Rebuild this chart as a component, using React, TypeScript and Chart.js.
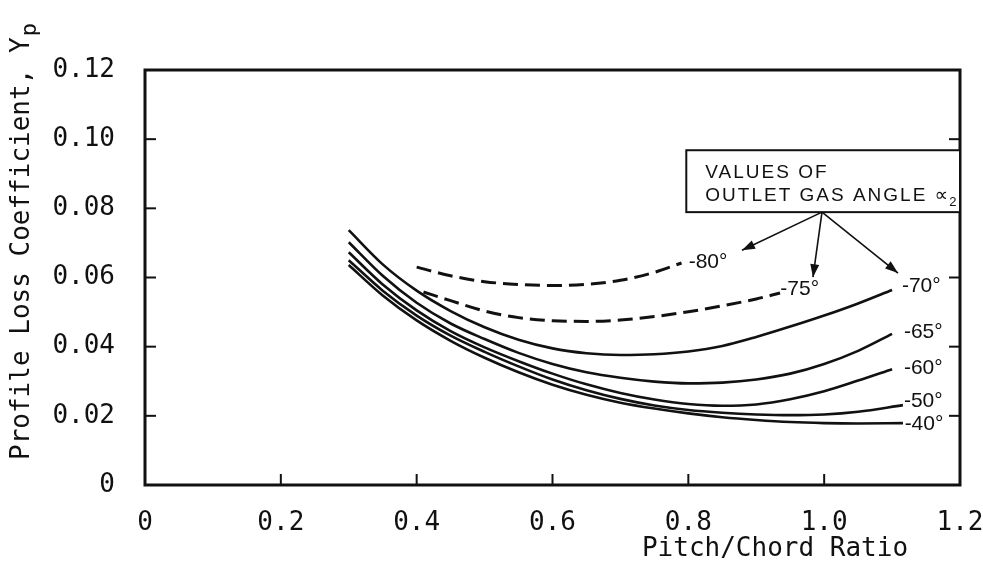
import React, { useEffect, useRef } from "react";
import { Chart, registerables } from "chart.js";

Chart.register(...registerables);

// ---- data ----
const X_TICKS = [0, 0.2, 0.4, 0.6, 0.8, 1.0, 1.2];
const X_TICK_LABELS = ["0", "0.2", "0.4", "0.6", "0.8", "1.0", "1.2"];
const Y_TICKS = [0, 0.02, 0.04, 0.06, 0.08, 0.1, 0.12];
const Y_TICK_LABELS = ["0", "0.02", "0.04", "0.06", "0.08", "0.10", "0.12"];

const PITCH_HIGH = [0.3, 0.35, 0.4, 0.45, 0.5, 0.55, 0.6, 0.65, 0.7, 0.75, 0.8, 0.85, 0.9, 0.95, 1.0, 1.05, 1.1];
const LOSS_70 = [0.0737, 0.0638, 0.0562, 0.0503, 0.0456, 0.042, 0.0395, 0.0381, 0.0376, 0.0378, 0.0386, 0.0402, 0.0428, 0.0458, 0.049, 0.0525, 0.0564];
const LOSS_65 = [0.0702, 0.0605, 0.0527, 0.0467, 0.0422, 0.0382, 0.035, 0.0326, 0.031, 0.0299, 0.0294, 0.0296, 0.0305, 0.0322, 0.035, 0.0388, 0.0437];
const LOSS_60 = [0.0673, 0.058, 0.0505, 0.0445, 0.0398, 0.0358, 0.0322, 0.0291, 0.0266, 0.0247, 0.0234, 0.0229, 0.0233, 0.0248, 0.0271, 0.0302, 0.0335];

const PITCH_LOW = [0.3, 0.35, 0.4, 0.45, 0.5, 0.55, 0.6, 0.65, 0.7, 0.75, 0.8, 0.85, 0.9, 0.95, 1.0, 1.05, 1.116];
const LOSS_50 = [0.065, 0.0562, 0.049, 0.0432, 0.0385, 0.0343, 0.0305, 0.0274, 0.0249, 0.023, 0.0217, 0.0209, 0.0204, 0.0202, 0.0204, 0.0212, 0.0231];
const LOSS_40 = [0.0636, 0.0548, 0.0476, 0.0417, 0.0368, 0.0326, 0.029, 0.0261, 0.0238, 0.0221, 0.0207, 0.0196, 0.0188, 0.0182, 0.0179, 0.0178, 0.0179];

const PITCH_80 = [0.4, 0.45, 0.5, 0.55, 0.6, 0.65, 0.7, 0.75, 0.79];
const LOSS_80 = [0.063, 0.0605, 0.0588, 0.058, 0.0577, 0.058, 0.0592, 0.0615, 0.0642];
const PITCH_75 = [0.41, 0.45, 0.5, 0.55, 0.6, 0.65, 0.7, 0.75, 0.8, 0.85, 0.9, 0.935];
const LOSS_75 = [0.0558, 0.0533, 0.0503, 0.0484, 0.0475, 0.0473, 0.0477, 0.0487, 0.0501, 0.0518, 0.0538, 0.0555];

const CURVE_NAMES = ["-80°", "-75°", "-70°", "-65°", "-60°", "-50°", "-40°"];
const LEGEND_LINES = ["VALUES OF", "OUTLET GAS ANGLE ∝"];
const X_TITLE = "Pitch/Chord Ratio";
const Y_TITLE = "Profile Loss Coefficient, Y";

// ---- annotation anchors (data coordinates) ----
const LABEL_ANCHORS = [
  [0.829, 0.0645],
  [0.964, 0.0566],
  [1.143, 0.0574],
  [1.146, 0.0441],
  [1.146, 0.0339],
  [1.146, 0.0242],
  [1.147, 0.0177],
];
const BOX = { x0: 0.797, x1: 1.2, yTop: 0.0968, yBot: 0.0789 };
const ARROW_FROM = [0.9968, 0.0789];
const ARROW_TO = [
  [0.879, 0.0679],
  [0.9835, 0.0601],
  [1.1087, 0.0613],
];

const INK = "#111";
const MONO = "'DejaVu Sans Mono', monospace";
const SANS = "'Liberation Sans', 'DejaVu Sans', sans-serif";

const pts = (xs: number[], ys: number[]) => xs.map((x, i) => ({ x, y: ys[i] }));

const decor = {
  id: "decor",
  afterDraw(chart: any) {
    const { ctx, chartArea: a, scales } = chart;
    const sx = scales.x, sy = scales.y;
    const X = (v: number) => sx.getPixelForValue(v);
    const Y = (v: number) => sy.getPixelForValue(v);
    const line = (x1: number, y1: number, x2: number, y2: number) => {
      ctx.beginPath(); ctx.moveTo(x1, y1); ctx.lineTo(x2, y2); ctx.stroke();
    };
    ctx.save();
    ctx.strokeStyle = INK;
    ctx.fillStyle = INK;
    ctx.setLineDash([]);
    // frame
    ctx.lineWidth = 3;
    ctx.strokeRect(a.left, a.top, a.right - a.left, a.bottom - a.top);
    // inward ticks
    ctx.lineWidth = 2;
    Y_TICKS.slice(1, -1).forEach((v) => {
      const py = Y(v);
      line(a.left, py, a.left + 11, py);
      line(a.right, py, a.right - 11, py);
    });
    X_TICKS.slice(1, -1).forEach((v) => {
      const px = X(v);
      line(px, a.bottom, px, a.bottom - 11);
    });
    // curve labels
    ctx.font = `21px ${SANS}`;
    ctx.textAlign = "center";
    ctx.textBaseline = "middle";
    CURVE_NAMES.forEach((t, i) => {
      ctx.fillText(t, X(LABEL_ANCHORS[i][0]), Y(LABEL_ANCHORS[i][1]));
    });
    // legend box
    const bx0 = X(BOX.x0), bx1 = X(BOX.x1), by0 = Y(BOX.yTop), by1 = Y(BOX.yBot);
    ctx.fillStyle = "#fff";
    ctx.fillRect(bx0, by0, bx1 - bx0, by1 - by0);
    ctx.fillStyle = INK;
    ctx.lineWidth = 2;
    ctx.strokeRect(bx0, by0, bx1 - bx0, by1 - by0);
    ctx.textAlign = "left";
    ctx.font = `19px ${SANS}`;
    (ctx as any).letterSpacing = "2px";
    ctx.fillText(LEGEND_LINES[0], bx0 + 19, by0 + 23);
    ctx.fillText(LEGEND_LINES[1], bx0 + 19, by0 + 46);
    const w = ctx.measureText(LEGEND_LINES[1]).width;
    (ctx as any).letterSpacing = "0px";
    ctx.font = `13px ${SANS}`;
    ctx.fillText("2", bx0 + 19 + w - 1, by0 + 52);
    // arrows
    ctx.lineWidth = 1.6;
    const fx = X(ARROW_FROM[0]), fy = Y(ARROW_FROM[1]);
    ARROW_TO.forEach(([tx, ty]) => {
      const ex = X(tx), ey = Y(ty);
      line(fx, fy, ex, ey);
      const ang = Math.atan2(ey - fy, ex - fx);
      const L = 13, W = 4.5;
      ctx.beginPath();
      ctx.moveTo(ex, ey);
      ctx.lineTo(ex - L * Math.cos(ang) + W * Math.sin(ang), ey - L * Math.sin(ang) - W * Math.cos(ang));
      ctx.lineTo(ex - L * Math.cos(ang) - W * Math.sin(ang), ey - L * Math.sin(ang) + W * Math.cos(ang));
      ctx.closePath();
      ctx.fill();
    });
    // axis titles
    ctx.font = `26px ${MONO}`;
    ctx.textAlign = "center";
    ctx.textBaseline = "middle";
    ctx.fillText(X_TITLE, a.right - 185, a.bottom + 64);
    ctx.save();
    ctx.translate(22, a.bottom - 25);
    ctx.rotate(-Math.PI / 2);
    ctx.textAlign = "left";
    ctx.fillText(Y_TITLE, 0, 0);
    const tw = ctx.measureText(Y_TITLE).width;
    ctx.font = `22px ${MONO}`;
    ctx.fillText("p", tw + 1, 8);
    ctx.restore();
    ctx.restore();
  },
};

export default function App() {
  const ref = useRef<HTMLCanvasElement | null>(null);
  useEffect(() => {
    document.body.style.margin = "0";
    document.body.style.overflow = "hidden";
    const solid = { borderColor: INK, borderWidth: 2.6, pointRadius: 0, showLine: true, tension: 0.4, cubicInterpolationMode: "monotone" as const, fill: false };
    const dashed = { ...solid, borderWidth: 3, borderDash: [15, 7] };
    const chart = new Chart(ref.current!, {
      type: "scatter",
      data: {
        datasets: [
          { label: CURVE_NAMES[0], data: pts(PITCH_80, LOSS_80), ...dashed },
          { label: CURVE_NAMES[1], data: pts(PITCH_75, LOSS_75), ...dashed },
          { label: CURVE_NAMES[2], data: pts(PITCH_HIGH, LOSS_70), ...solid },
          { label: CURVE_NAMES[3], data: pts(PITCH_HIGH, LOSS_65), ...solid },
          { label: CURVE_NAMES[4], data: pts(PITCH_HIGH, LOSS_60), ...solid },
          { label: CURVE_NAMES[5], data: pts(PITCH_LOW, LOSS_50), ...solid },
          { label: CURVE_NAMES[6], data: pts(PITCH_LOW, LOSS_40), ...solid },
        ] as any,
      },
      options: {
        responsive: false,
        animation: false,
        devicePixelRatio: 1,
        layout: { padding: { left: 0, top: 70, right: 23, bottom: 0 } },
        plugins: { legend: { display: false }, tooltip: { enabled: false } },
        scales: {
          x: {
            type: "linear",
            min: 0,
            max: 1.2,
            grid: { display: false, drawTicks: false },
            border: { display: false },
            afterBuildTicks: (s: any) => { s.ticks = X_TICKS.map((v) => ({ value: v })); },
            afterFit: (s: any) => { s.height = 87; s.paddingLeft = 0; s.paddingRight = 0; },
            ticks: {
              padding: 23,
              color: INK,
              font: { family: MONO, size: 26 },
              callback: (_v: any, i: number) => X_TICK_LABELS[i],
              maxRotation: 0,
              autoSkip: false,
            },
          },
          y: {
            type: "linear",
            min: 0,
            max: 0.12,
            grid: { display: false, drawTicks: false },
            border: { display: false },
            afterBuildTicks: (s: any) => { s.ticks = Y_TICKS.map((v) => ({ value: v })); },
            afterFit: (s: any) => { s.width = 145; s.paddingTop = 0; s.paddingBottom = 0; },
            ticks: {
              padding: 30,
              color: INK,
              font: { family: MONO, size: 26 },
              callback: (_v: any, i: number) => Y_TICK_LABELS[i],
              autoSkip: false,
            },
          },
        },
      } as any,
      plugins: [decor],
    });
    return () => chart.destroy();
  }, []);
  return (
    <div style={{ width: 983, height: 572, background: "#fff" }}>
      <canvas ref={ref} width={983} height={572} />
    </div>
  );
}
